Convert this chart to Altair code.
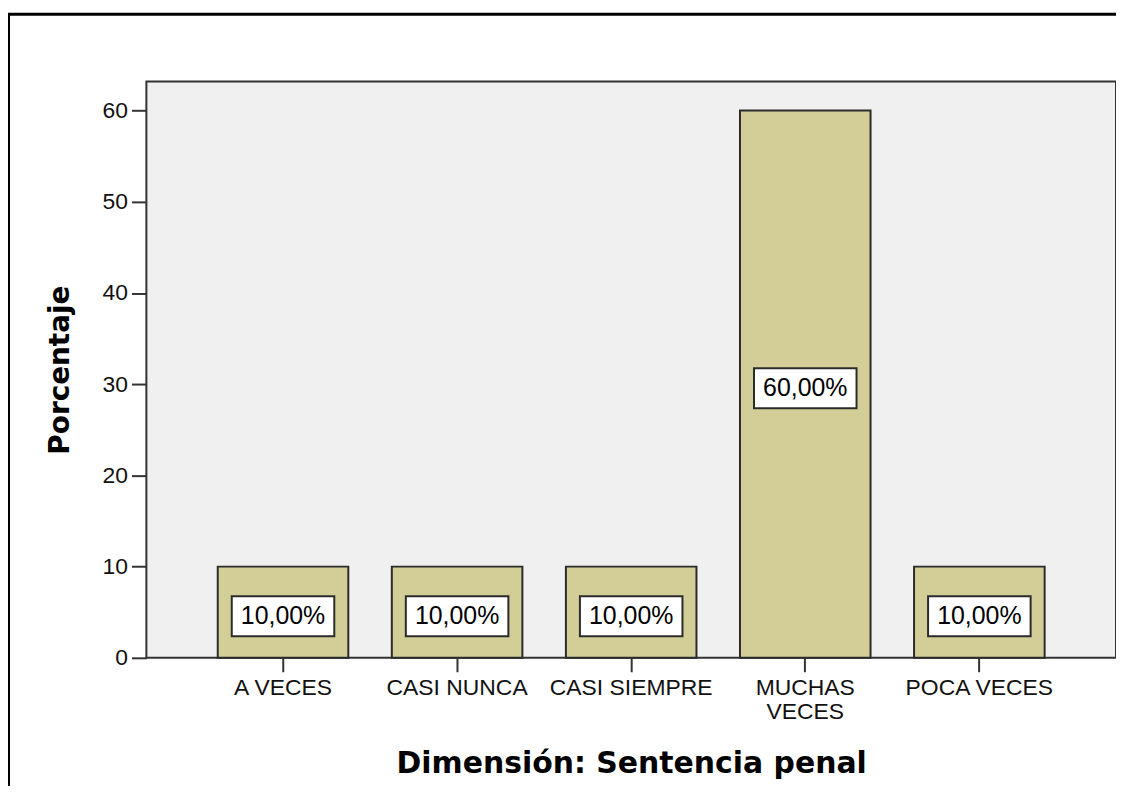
import altair as alt
import pandas as pd

categories = ["A VECES", "CASI NUNCA", "CASI SIEMPRE", "MUCHAS VECES", "POCA VECES"]
percentages = [10.0, 10.0, 10.0, 60.0, 10.0]
y_ticks = [0, 10, 20, 30, 40, 50, 60]

df = pd.DataFrame({
    "cat": categories,
    "pct": percentages,
    "label": [f"{v:.2f}".replace(".", ",") + "%" for v in percentages],
})

W, H = 974, 579
FONT = "Liberation Sans"

x_enc = alt.X(
    "cat:N",
    sort=categories,
    scale=alt.Scale(paddingInner=0.25, paddingOuter=0.41),
    axis=alt.Axis(
        title="Dimensión: Sentencia penal",
        labelAngle=0,
        labelFont=FONT,
        labelFontSize=23,
        labelColor="#111",
        labelPadding=5,
        labelLineHeight=24,
        labelExpr="datum.label == 'MUCHAS VECES' ? ['MUCHAS', 'VECES'] : datum.label",
        tickSize=14,
        tickWidth=2,
        tickColor="#333",
        domain=False,
        titleFont="DejaVu Sans",
        titleFontWeight="bold",
        titleFontSize=30,
        titleColor="#000",
        titleX=W / 2,
        titleY=106,
        titleBaseline="middle",
        titleAlign="center",
    ),
)

y_scale = alt.Scale(domain=[0, 63.2], nice=False)

bars = alt.Chart(df).mark_bar(
    color="#D3CE97", stroke="#2b2b2b", strokeWidth=2
).encode(
    x=x_enc,
    y=alt.Y(
        "pct:Q",
        scale=y_scale,
        axis=alt.Axis(
            title="Porcentaje",
            values=y_ticks,
            grid=False,
            domain=False,
            labelFont=FONT,
            labelFontSize=23,
            labelColor="#111",
            labelPadding=4,
            tickSize=15,
            tickWidth=2,
            tickColor="#333",
            titleFont="DejaVu Sans",
            titleFontWeight="bold",
            titleFontSize=28,
            titleColor="#000",
            titleAngle=270,
            titleX=-86,
            titleY=H / 2,
            titleBaseline="middle",
            titleAlign="center",
        ),
    ),
)

base_lbl = alt.Chart(df).transform_calculate(mid="datum.pct / 2")

boxes = base_lbl.mark_point(
    shape="M-1,-0.39L1,-0.39L1,0.39L-1,0.39Z",
    size=103 * 103,
    filled=True,
    fill="white",
    stroke="#2b2b2b",
    strokeWidth=2,
    opacity=1,
    yOffset=4,
).encode(
    x=alt.X("cat:N", sort=categories),
    y=alt.Y("mid:Q", scale=y_scale),
)

texts = base_lbl.mark_text(
    font=FONT, fontSize=25, color="#000", baseline="middle", align="center",
    yOffset=4,
).encode(
    x=alt.X("cat:N", sort=categories),
    y=alt.Y("mid:Q", scale=y_scale),
    text="label:N",
)

frame = alt.Chart(alt.Data(values=[{"a": 1}])).mark_rect(
    fill=None, stroke="#000", strokeWidth=3
).encode(
    x=alt.value(-138.5),
    x2=alt.value(W + 40),
    y=alt.value(-67.5),
    y2=alt.value(H + 300),
)

chart = alt.layer(frame, bars, boxes, texts).properties(
    width=W,
    height=H,
    autosize=alt.AutoSizeParams(type="none"),
    padding={"left": 139, "top": 72, "right": 0, "bottom": 127},
    background="white",
).configure_view(
    fill="#F0F0F0", stroke="#333", strokeWidth=2
)

chart.save("out.html", embed_options={"renderer": "svg", "actions": False})
